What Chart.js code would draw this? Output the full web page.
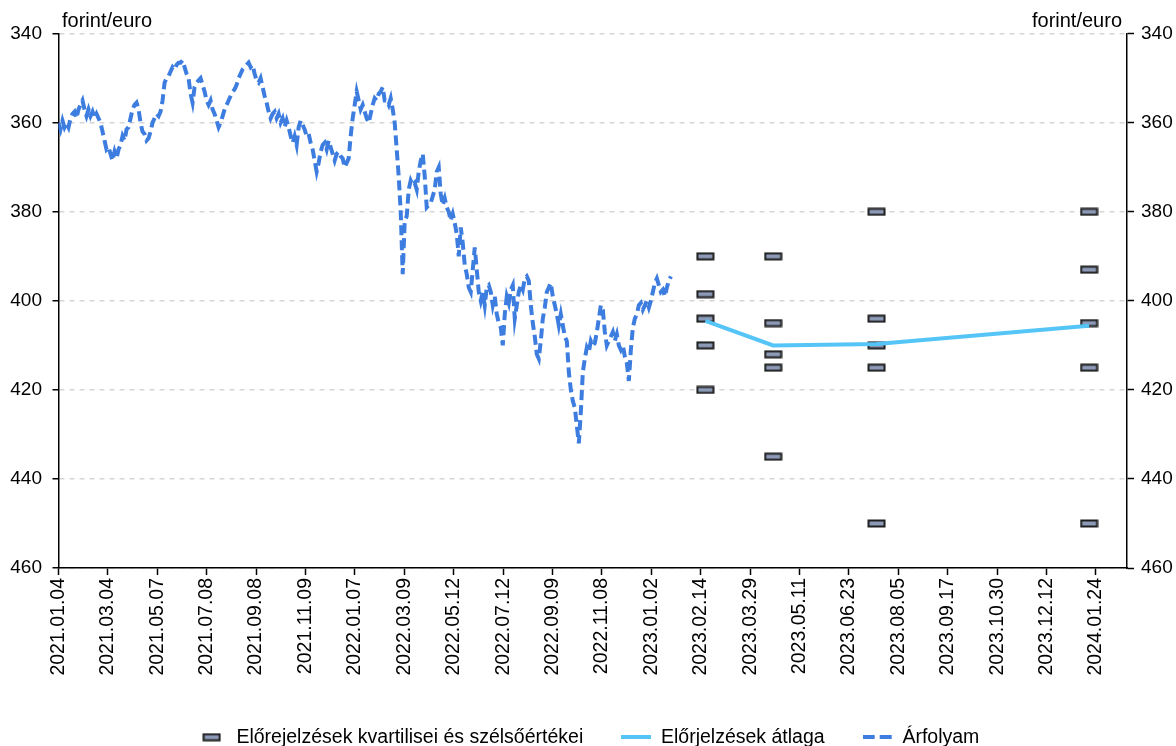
<!DOCTYPE html>
<html lang="hu">
<head>
    <meta charset="UTF-8">
    <title>Forint/euro árfolyam és előrejelzések</title>
    <script src="https://cdn.jsdelivr.net/npm/chart.js"></script>
    <style>
        html, body { margin: 0; padding: 0; background: #fff; overflow: hidden; }
        .chart-box { width: 1176px; height: 746px; }
    </style>
</head>
<body>
    <div class="chart-box">
        <canvas id="rateChart"></canvas>
    </div>

    <script>
        // x axis: one tick every 43 days, labelled with the date
        const tickDates = [
            '2021.01.04', '2021.03.04', '2021.05.07', '2021.07.08', '2021.09.08', '2021.11.09',
            '2022.01.07', '2022.03.09', '2022.05.12', '2022.07.12', '2022.09.09', '2022.11.08',
            '2023.01.02', '2023.02.14', '2023.03.29', '2023.05.11', '2023.06.23', '2023.08.05',
            '2023.09.17', '2023.10.30', '2023.12.12', '2024.01.24'
        ];
        const tickStep = 43;
        const axisEnd = 930;

        const yTicks = [340, 360, 380, 400, 420, 440, 460];

        // EUR/HUF, evenly spaced samples from day 0 to rateLastDay
        const rateLastDay = 533;
        const rateValues = [
            360, 361.5, 359.5, 361, 360, 361, 359, 358, 357.5, 359,
            357, 356, 355, 357, 358.5, 357, 358.5, 357.5, 359, 358,
            359, 360, 362, 364, 366, 365.5, 367, 368.5, 366.5, 368,
            366, 365, 363, 364, 361.5, 361, 359, 357, 356, 355.5,
            357, 360, 362, 362.5, 364, 363.5, 362, 360, 359, 358,
            358.5, 357.5, 355, 351, 350, 349.5, 348.5, 347.5, 348, 347,
            346.5, 346.5, 346, 347.5, 349, 350, 353.5, 355.5, 352, 351,
            350.5, 350, 351.5, 353, 355, 356, 355, 357, 358, 359.5,
            361, 360, 358.5, 357, 356, 355, 354, 353, 352.5, 351.5,
            350, 349, 348, 347.5, 347, 346.5, 347.5, 347, 349, 350.5,
            351, 350, 352, 354, 355.5, 357.5, 359, 358, 357.5, 359,
            358, 360, 359, 361, 359.5, 361, 363, 364.5, 363, 365,
            361, 359.5, 360.5, 361.5, 363, 362.5, 364.5, 366, 368.5, 371,
            369, 366.5, 365, 364.5, 366, 364, 365.5, 367, 368.5, 367,
            366.5, 367.5, 368, 370, 369, 368, 363, 359, 356, 353,
            355, 357, 356, 357.5, 359, 360, 358, 356, 354.5, 355,
            353.5, 353, 352, 355, 355, 356, 354.5, 357, 360, 366,
            372, 380, 394, 382, 381, 375, 373, 374, 373.5, 375,
            371, 368.5, 367, 372, 379, 378.5, 378, 376.5, 375, 371,
            370, 376, 378.5, 377, 379, 380, 382, 380.5, 382.5, 385,
            390, 383.5, 387, 392, 394, 397, 398, 393, 388, 393,
            398, 400, 398, 401, 397, 396.5, 398, 401, 399, 403,
            405, 406, 410, 403, 399, 400.5, 397.5, 396.5, 404, 401,
            398, 396.5, 397.5, 395, 394.5, 395.5, 401, 405, 408, 412,
            413, 409, 404, 401.5, 398, 397, 396, 399, 401, 403,
            405.5, 403, 405.5, 408, 409, 416, 420, 422.5, 424, 428,
            432, 425, 416, 413, 410.5, 411.5, 409, 410, 409.5, 407,
            404, 401, 402, 407, 410, 409, 408, 407, 409, 407.5,
            410, 411, 410, 412.5, 414, 418, 411, 406, 404, 403,
            401, 400.5, 402, 401, 400, 401.5, 400, 398, 396, 395,
            396.5, 398, 397.5, 399, 397, 395.5, 394.5
        ];

        // forecasts: day position, min / quartiles / max and mean
        const forecastDays = [563, 622, 712, 897];
        const forecastMin = [390, 390, 380, 380];
        const forecastQ1 = [398.5, 405, 404, 393];
        const forecastMedian = [404, 412, 410, 405];
        const forecastQ3 = [410, 415, 415, 415];
        const forecastMax = [420, 435, 450, 450];
        const forecastMean = [404.5, 410, 409.7, 405.6];

        const rateStep = rateLastDay / (rateValues.length - 1);
        const ratePoints = rateValues.map((v, i) => ({ x: i * rateStep, y: v }));
        const meanPoints = forecastDays.map((d, i) => ({ x: d, y: forecastMean[i] }));
        const markerPoints = [];
        forecastDays.forEach((d, i) => {
            [forecastMin, forecastQ1, forecastMedian, forecastQ3, forecastMax].forEach(arr => {
                markerPoints.push({ x: d, y: arr[i] });
            });
        });

        const rateColor = '#3d7ddf';
        const meanColor = '#55c5f7';

        // small canvases used as point / legend symbols
        function makeMarker() {
            const c = document.createElement('canvas');
            c.width = 19; c.height = 9;
            const g = c.getContext('2d');
            g.fillStyle = '#8c9ab7';
            g.fillRect(1, 1, 17, 7);
            g.strokeStyle = '#1e1e1e';
            g.lineWidth = 2;
            g.strokeRect(1.5, 1.5, 16, 6);
            return c;
        }
        function makeLine(color, dashed) {
            const c = document.createElement('canvas');
            c.width = 30; c.height = 4;
            const g = c.getContext('2d');
            g.fillStyle = color;
            if (dashed) {
                g.fillRect(0, 0, 12, 4);
                g.fillRect(17, 0, 12, 4);
            } else {
                g.fillRect(0, 0, 30, 4);
            }
            return c;
        }
        const markerIcon = makeMarker();

        const unitTitles = {
            id: 'unitTitles',
            afterDraw(chart) {
                const { ctx, chartArea } = chart;
                ctx.save();
                ctx.font = "20px 'Liberation Sans', Arial, sans-serif";
                ctx.fillStyle = '#000';
                ctx.textBaseline = 'alphabetic';
                ctx.textAlign = 'left';
                ctx.fillText('forint/euro', chartArea.left + 3.5, 27);
                ctx.textAlign = 'right';
                ctx.fillText('forint/euro', chartArea.right - 5, 27);
                ctx.restore();
            }
        };

        // push the legend row down near the bottom edge
        const legendShift = {
            id: 'legendShift',
            afterLayout(chart) {
                chart.legend.top += 11;
                chart.legend.bottom += 11;
            }
        };

        Chart.defaults.font.family = "'Liberation Sans', Arial, sans-serif";
        Chart.defaults.color = '#000';

        const yTickFont = { size: 19 };

        var ctx = document.getElementById('rateChart').getContext('2d');
        var rateChart = new Chart(ctx, {
            type: 'line',
            data: {
                datasets: [
                    {
                        label: 'Előrejelzések kvartilisei és szélsőértékei',
                        data: markerPoints,
                        showLine: false,
                        pointStyle: markerIcon,
                        pointRadius: 9,
                        order: 1
                    },
                    {
                        label: 'Előrjelzések átlaga',
                        data: meanPoints,
                        borderColor: meanColor,
                        borderWidth: 4,
                        pointRadius: 0,
                        tension: 0,
                        order: 0
                    },
                    {
                        label: 'Árfolyam',
                        data: ratePoints,
                        borderColor: rateColor,
                        borderWidth: 4,
                        borderDash: [10, 5],
                        pointRadius: 0,
                        tension: 0,
                        order: 2
                    }
                ]
            },
            options: {
                responsive: true,
                maintainAspectRatio: false,
                animation: false,
                events: [],
                layout: { padding: { top: 33.7, left: 0, right: 0, bottom: 0 } },
                scales: {
                    x: {
                        type: 'linear',
                        min: 0,
                        max: axisEnd,
                        afterBuildTicks: scale => {
                            scale.ticks = tickDates.map((_, i) => ({ value: i * tickStep }));
                        },
                        afterFit: scale => { scale.height = 110.5; },
                        ticks: {
                            autoSkip: false,
                            minRotation: 90,
                            maxRotation: 90,
                            padding: 3,
                            font: { size: 19.5 },
                            callback: value => tickDates[Math.round(value / tickStep)]
                        },
                        grid: {
                            drawOnChartArea: false,
                            drawTicks: true,
                            tickLength: 7,
                            tickColor: '#000',
                            tickWidth: 1.5
                        },
                        border: { color: '#000', width: 1.5 }
                    },
                    y: {
                        position: 'left',
                        min: 340,
                        max: 460,
                        reverse: true,
                        afterBuildTicks: scale => {
                            scale.ticks = yTicks.map(v => ({ value: v }));
                        },
                        afterFit: scale => { scale.width = 58.5; },
                        ticks: { padding: 10.5, font: yTickFont },
                        grid: {
                            color: '#d6d6d6',
                            lineWidth: 1.5,
                            tickLength: 6,
                            tickColor: '#000',
                            tickWidth: 1.5,
                            tickBorderDash: []
                        },
                        border: { color: '#000', width: 1.5, dash: [5, 5] }
                    },
                    yRight: {
                        position: 'right',
                        min: 340,
                        max: 460,
                        reverse: true,
                        afterBuildTicks: scale => {
                            scale.ticks = yTicks.map(v => ({ value: v }));
                        },
                        afterFit: scale => { scale.width = 49; },
                        ticks: { padding: 7, font: yTickFont },
                        grid: {
                            drawOnChartArea: false,
                            tickLength: 7,
                            tickColor: '#000',
                            tickWidth: 1.5
                        },
                        border: { color: '#000', width: 1.5 }
                    }
                },
                plugins: {
                    tooltip: { enabled: false },
                    legend: {
                        position: 'bottom',
                        labels: {
                            usePointStyle: true,
                            pointStyleWidth: 30,
                            padding: 38,
                            font: { size: 19.5 },
                            generateLabels: () => [
                                { text: 'Előrejelzések kvartilisei és szélsőértékei', pointStyle: markerIcon, datasetIndex: 0, hidden: false, lineWidth: 0, fontColor: '#000' },
                                { text: 'Előrjelzések átlaga', pointStyle: makeLine(meanColor, false), datasetIndex: 1, hidden: false, lineWidth: 0, fontColor: '#000' },
                                { text: 'Árfolyam', pointStyle: makeLine(rateColor, true), datasetIndex: 2, hidden: false, lineWidth: 0, fontColor: '#000' }
                            ]
                        }
                    }
                }
            },
            plugins: [unitTitles, legendShift]
        });
    </script>
</body>
</html>
